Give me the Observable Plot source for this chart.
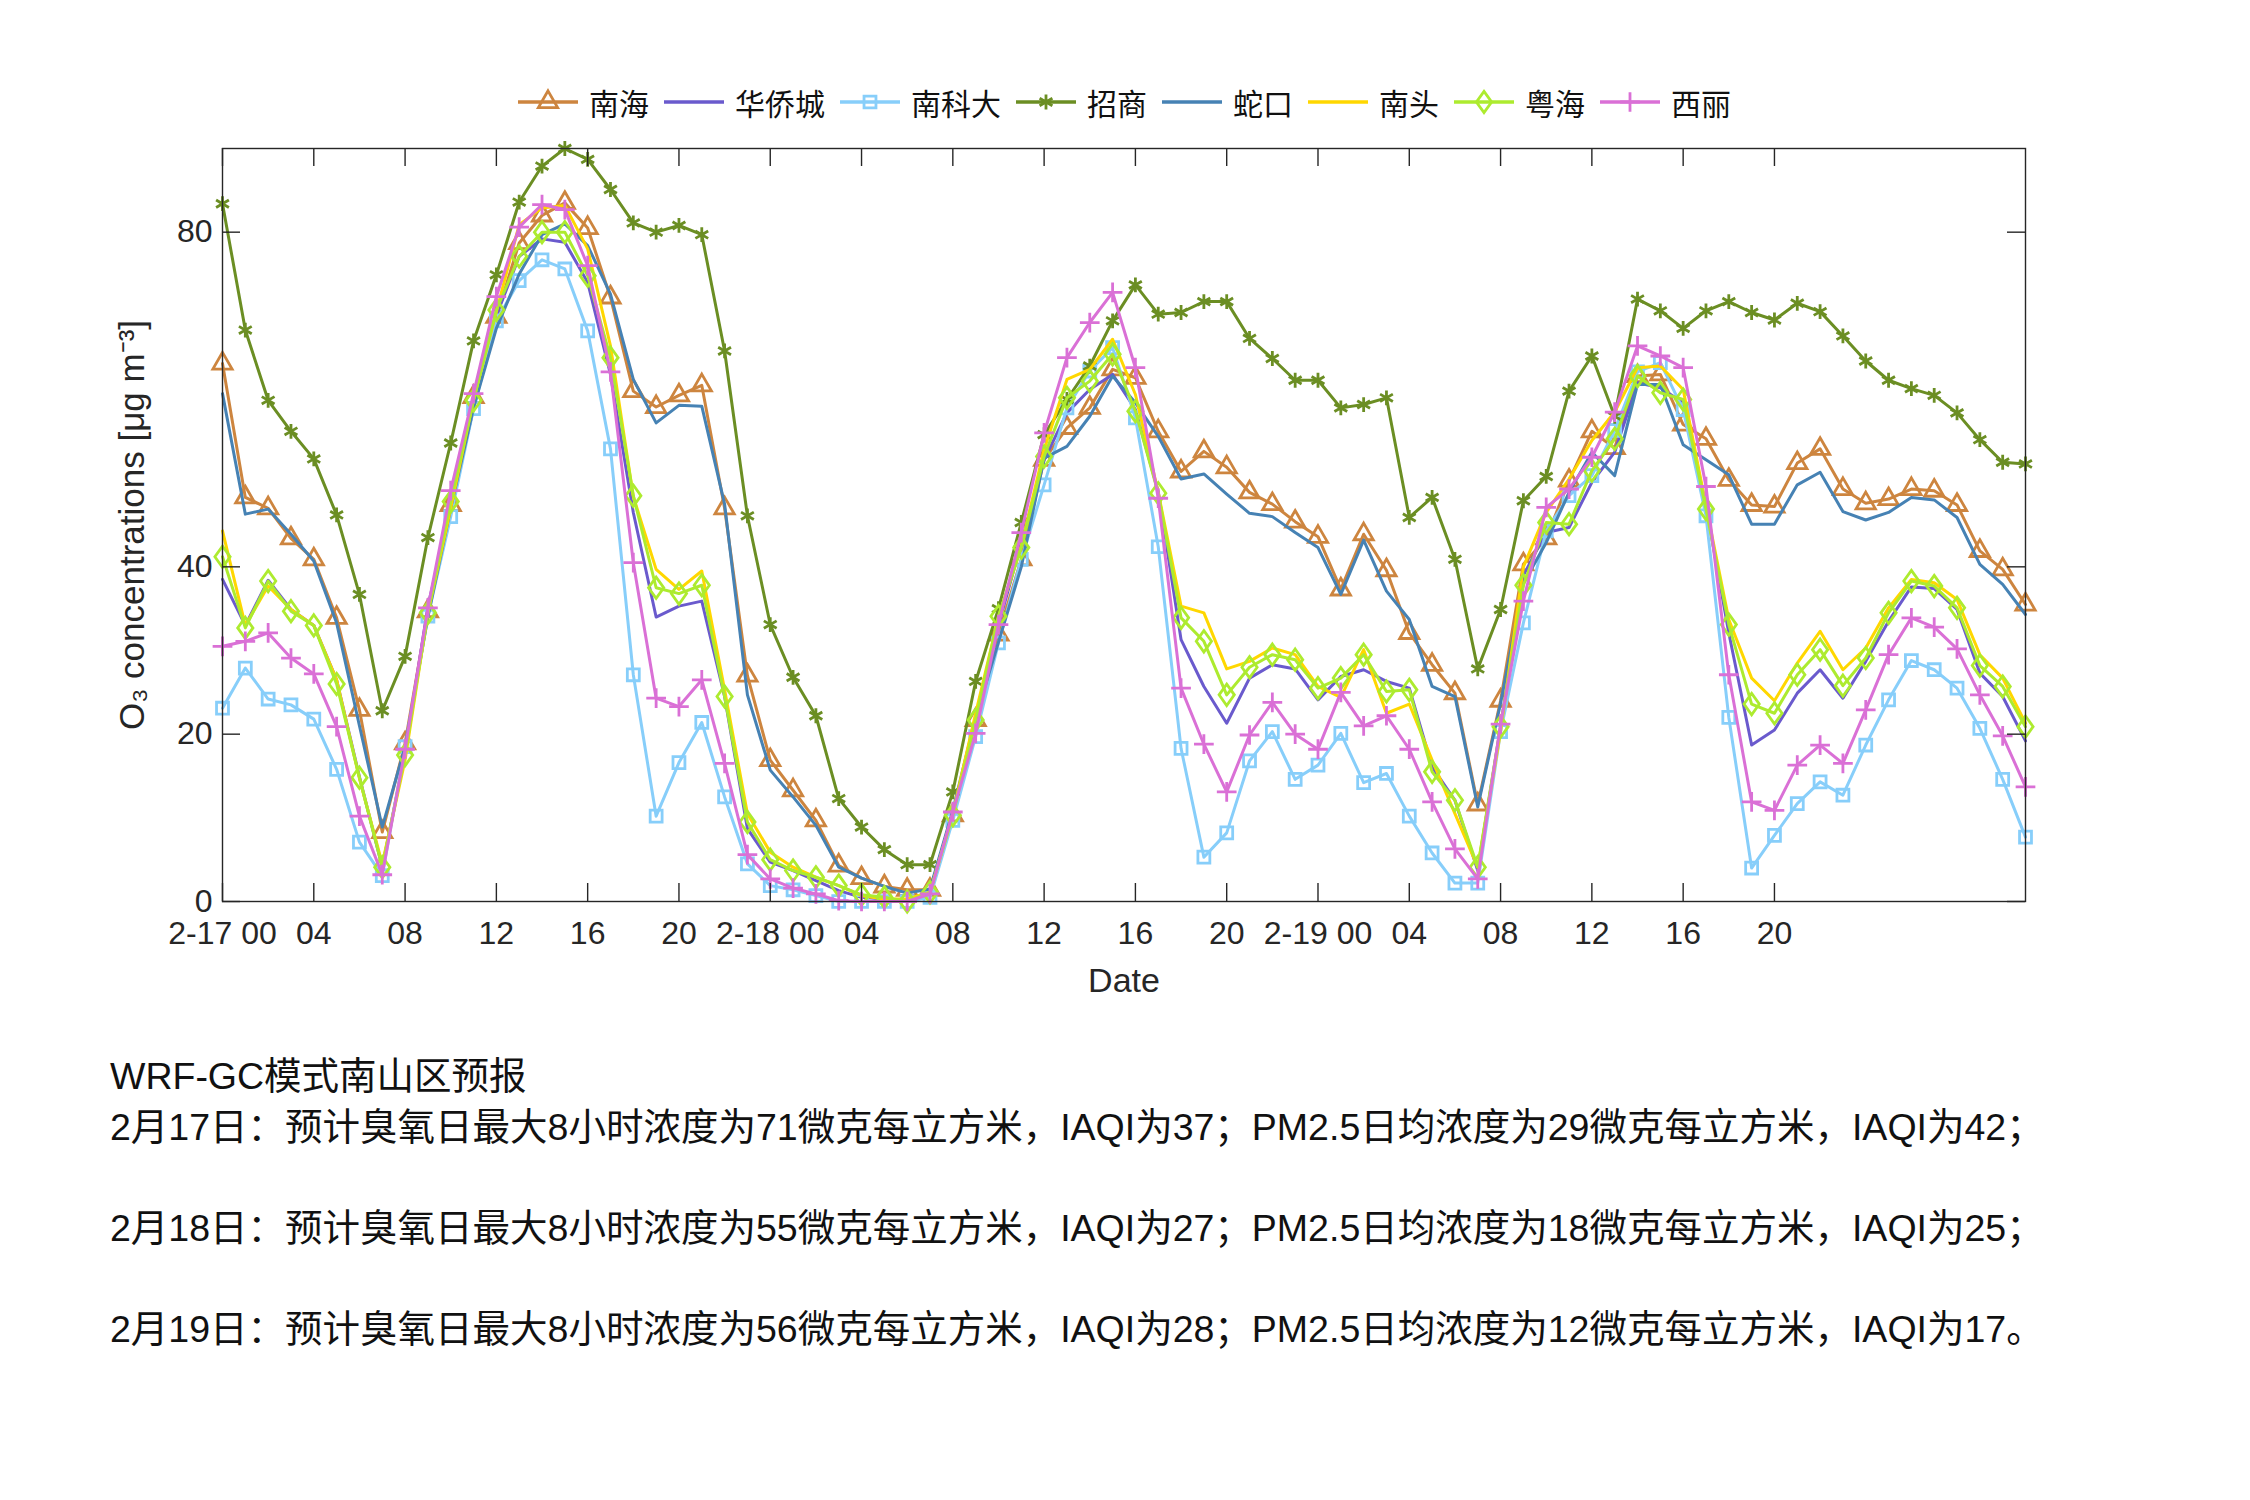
<!DOCTYPE html>
<html><head><meta charset="utf-8">
<script src="https://cdn.jsdelivr.net/npm/d3@7"></script>
<script src="https://cdn.jsdelivr.net/npm/@observablehq/plot@0.6"></script>
<style>
html,body{margin:0;padding:0;background:#fff;}
#page{position:relative;width:2250px;height:1500px;font-family:"Liberation Sans","Noto Sans CJK SC",sans-serif;color:#262626;}
#legend{position:absolute;left:7px;top:80px;width:2250px;height:44px;display:flex;justify-content:center;align-items:center;}
.item{display:flex;align-items:center;margin-right:15px;}
.item span{font-size:30px;margin-left:11px;font-family:"Noto Sans CJK SC",sans-serif;color:#111;}
#chart{position:absolute;left:0;top:130px;}
#caption{position:absolute;left:110px;top:1051px;font-size:37.5px;line-height:50.5px;white-space:pre;font-family:"Liberation Sans","Noto Sans CJK SC",sans-serif;color:#111;}
</style></head>
<body><div id="page"><div id="legend"></div><div id="chart"></div><div id="caption"></div></div>
<script>
// ---- data (hourly O3, 2-17 00 .. 2-20 07) ----
const hours = d3.range(0, 80);
const stations = ["南海","华侨城","南科大","招商","蛇口","南头","粤海","西丽"];
const nanhai = [64.3,48.3,47.0,43.4,40.9,33.9,22.9,8.3,18.9,34.7,
 47.4,60.3,69.9,78.7,82.0,83.5,80.5,72.2,61.0,59.1,
 60.5,61.7,47.0,27.0,16.9,13.3,9.7,4.3,2.8,1.8,
 1.4,1.4,10.3,21.7,31.9,40.9,52.8,56.6,59.0,63.6,
 62.6,56.2,51.4,53.8,51.9,48.9,47.5,45.4,43.6,37.3,
 43.9,39.6,32.1,28.3,24.9,11.6,24.0,40.3,43.4,50.3,
 56.2,54.2,62.8,63.0,57.0,55.3,50.4,47.4,47.2,52.4,
 54.1,49.3,47.6,48.1,49.3,49.1,47.4,41.9,39.7,35.5];
const huaqiaocheng = [38.5,33.0,38.4,34.9,33.0,26.5,14.9,4.1,17.7,35.3,
 47.0,59.0,70.0,77.1,79.2,78.8,74.0,63.0,46.5,34.0,
 35.3,35.9,24.5,8.7,4.7,3.7,2.5,1.3,0.5,0.3,
 0.1,0.7,10.5,21.7,33.0,42.9,52.8,58.4,61.2,63.0,
 58.8,49.0,31.3,25.7,21.3,26.7,28.3,27.8,24.1,26.9,
 27.7,26.3,25.5,16.1,12.1,3.7,20.9,39.0,44.1,44.7,
 50.1,53.7,62.0,61.4,59.6,47.3,32.1,18.7,20.5,24.9,
 27.7,24.3,28.7,33.5,37.6,37.4,34.9,27.3,24.5,19.2];
const nankeda = [23.1,27.9,24.2,23.5,21.8,15.8,7.1,3.1,18.5,34.1,
 46.0,58.9,69.4,74.2,76.7,75.6,68.2,54.1,27.1,10.2,
 16.6,21.4,12.5,4.5,1.9,1.4,0.7,0.0,0.0,0.0,
 0.0,0.5,9.7,19.7,30.9,40.9,49.8,59.0,63.4,66.2,
 57.8,42.4,18.3,5.3,8.2,16.8,20.3,14.6,16.3,20.1,
 14.2,15.3,10.2,5.8,2.2,2.2,20.3,33.3,44.3,48.5,
 50.9,56.3,63.3,64.4,58.8,46.1,22.0,4.0,7.9,11.7,
 14.3,12.7,18.7,24.1,28.8,27.7,25.5,20.7,14.6,7.7];
const zhaoshang = [83.4,68.3,59.9,56.2,52.9,46.2,36.7,22.8,29.3,43.5,
 54.8,67.0,74.9,83.6,87.9,90.0,88.7,85.1,81.1,80.0,
 80.8,79.7,65.8,46.1,33.1,26.8,22.2,12.3,8.9,6.2,
 4.4,4.4,13.1,26.3,35.0,45.3,55.8,60.0,64.0,69.4,
 73.7,70.2,70.4,71.7,71.7,67.3,64.9,62.3,62.3,59.0,
 59.4,60.2,45.9,48.3,40.9,27.8,34.9,47.9,50.8,61.0,
 65.2,58.0,72.0,70.6,68.5,70.6,71.7,70.4,69.5,71.5,
 70.5,67.6,64.6,62.3,61.3,60.5,58.4,55.2,52.5,52.3];
const shekou = [60.7,46.3,46.9,43.9,40.7,33.3,21.0,8.9,18.5,34.0,
 47.0,59.0,68.5,75.0,79.7,81.0,78.4,72.6,62.4,57.2,
 59.3,59.2,47.5,24.7,15.7,12.5,9.1,4.1,2.8,1.8,
 1.0,1.5,10.9,22.0,31.0,40.0,53.0,54.4,58.0,62.8,
 59.6,55.6,50.5,51.1,48.7,46.4,46.0,44.1,42.3,36.7,
 43.2,37.1,33.7,25.7,24.5,11.3,23.7,38.0,42.9,48.9,
 53.7,50.9,61.8,61.8,54.6,52.8,51.0,45.1,45.1,49.8,
 51.3,46.6,45.6,46.5,48.3,48.0,45.9,40.3,37.9,34.3];
const nantou = [44.3,33.0,37.7,34.9,33.0,26.5,14.7,4.5,16.9,34.5,
 47.0,60.0,70.5,80.9,82.9,83.2,78.0,66.4,48.4,39.7,
 37.3,39.5,25.3,10.5,5.9,4.1,2.9,1.9,0.7,0.3,
 0.3,1.1,10.5,22.5,34.0,42.5,54.0,62.4,63.6,67.2,
 60.6,48.9,35.3,34.5,27.8,28.7,30.3,29.5,25.7,24.4,
 30.1,22.5,23.6,16.9,10.5,4.1,20.3,40.0,46.5,50.5,
 55.1,58.5,63.8,64.0,61.2,47.3,33.7,26.7,24.0,28.5,
 32.3,27.7,30.3,35.1,38.5,38.1,36.1,29.5,26.7,21.3];
const yuehai = [41.2,32.7,38.3,34.7,33.0,26.0,14.8,4.1,17.5,34.5,
 47.8,59.9,70.7,77.1,80.0,80.0,74.8,65.0,48.5,37.5,
 36.8,37.8,24.5,9.5,5.0,3.7,2.9,1.9,0.8,0.5,
 0.0,1.1,10.3,21.7,34.1,42.3,53.2,60.2,62.2,65.4,
 58.6,48.8,33.9,31.1,24.7,28.0,29.5,28.9,25.5,26.7,
 29.5,25.1,25.3,15.5,12.1,4.1,20.9,37.8,45.3,45.1,
 51.5,55.3,62.8,60.8,60.0,46.9,33.1,23.6,22.5,27.1,
 30.1,25.8,29.1,34.5,38.3,37.7,35.1,28.2,25.7,20.9];
const xili = [30.5,31.1,32.1,29.1,27.2,20.9,10.2,3.2,18.2,35.1,
 49.1,60.7,72.3,80.6,83.3,82.7,76.0,63.3,40.5,24.3,
 23.3,26.5,16.5,5.6,2.7,1.6,0.9,0.1,0.0,0.0,
 0.0,0.9,10.7,20.1,33.1,44.1,56.0,65.0,69.2,72.8,
 63.8,48.2,25.5,18.8,13.1,19.9,23.8,20.0,18.2,25.0,
 21.0,22.2,18.2,11.9,6.3,2.7,21.2,35.9,47.1,49.3,
 53.1,58.5,66.4,65.2,63.8,49.6,27.1,11.9,10.9,16.3,
 18.7,16.5,22.9,29.5,33.9,32.8,30.2,24.7,19.8,13.7];
const xTicks = [0,4,8,12,16,20,24,28,32,36,40,44,48,52,56,60,64,68];
const xTickLabels = ["2-17 00","04","08","12","16","20","2-18 00","04","08","12","16","20","2-19 00","04","08","12","16","20"];
const yTicks = [0,20,40,80];
const xLabel = "Date";
const yLabel = "O₃ concentrations [μg m⁻³]";
const captionLines = [
 "WRF-GC模式南山区预报",
 "2月17日：预计臭氧日最大8小时浓度为71微克每立方米，IAQI为37；PM2.5日均浓度为29微克每立方米，IAQI为42；",
 "",
 "2月18日：预计臭氧日最大8小时浓度为55微克每立方米，IAQI为27；PM2.5日均浓度为18微克每立方米，IAQI为25；",
 "",
 "2月19日：预计臭氧日最大8小时浓度为56微克每立方米，IAQI为28；PM2.5日均浓度为12微克每立方米，IAQI为17。"
];

// ---- styling ----
const seriesValues = [nanhai, huaqiaocheng, nankeda, zhaoshang, shekou, nantou, yuehai, xili];
const colors = ["#CD853F","#6A5ACD","#87CEFA","#6B8E23","#4682B4","#FFD700","#ADEB2F","#DA70D6"];
const tallDiamond = {draw(ctx, size){const s=Math.sqrt(size);const w=s*0.5,h=s*0.7;ctx.moveTo(0,-h);ctx.lineTo(w,0);ctx.lineTo(0,h);ctx.lineTo(-w,0);ctx.closePath();}};
const symbolTypes = [d3.symbolTriangle2, null, d3.symbolSquare2, d3.symbolAsterisk, null, null, tallDiamond, d3.symbolPlus];
const symbolR = [9.2, 0, 7.6, 7.0, 0, 0, 8.6, 6.4];

const rows = stations.flatMap((s, i) => hours.map((h, j) => ({station: s, hour: h, value: seriesValues[i][j]})));

const W = 2250, mL = 222, mR = 225, mT = 18, plotH = 753, mB = 120;
const H = mT + plotH + mB;
const plotW = W - mL - mR;
const tickLen = 18;
const labelMap = new Map(xTicks.map((t, i) => [t, xTickLabels[i]]));

const marks = [];
stations.forEach((s, i) => {
  const d = rows.filter(r => r.station === s);
  marks.push(Plot.line(d, {x: "hour", y: "value", stroke: colors[i], strokeWidth: 3}));
  if (symbolTypes[i]) marks.push(Plot.dot(d, {x: "hour", y: "value", stroke: colors[i], fill: "none", symbol: symbolTypes[i], r: symbolR[i], strokeWidth: 2.8}));
});

const chart = Plot.plot({
  width: W, height: H,
  marginLeft: mL, marginRight: mR, marginTop: mT, marginBottom: mB,
  style: {fontFamily: '"Liberation Sans","Noto Sans CJK SC",sans-serif', fontSize: "32px", color: "#262626", background: "white"},
  x: {domain: [0, 79]},
  y: {domain: [0, 90]},
  marks: [
    ...marks,
    Plot.frame({stroke: "#262626", strokeWidth: 1.4}),
    Plot.tickX(xTicks, {x: d => d, stroke: "#262626", strokeWidth: 1.4, insetTop: plotH - tickLen}),
    Plot.tickX(xTicks, {x: d => d, stroke: "#262626", strokeWidth: 1.4, insetBottom: plotH - tickLen}),
    Plot.tickY(yTicks, {y: d => d, stroke: "#262626", strokeWidth: 1.4, insetRight: plotW - tickLen}),
    Plot.tickY(yTicks, {y: d => d, stroke: "#262626", strokeWidth: 1.4, insetLeft: plotW - tickLen}),
    Plot.axisX({ticks: xTicks, tickSize: 0, tickPadding: 20, fontSize: 32, tickFormat: d => labelMap.get(d), label: null}),
    Plot.axisY({ticks: yTicks, tickSize: 0, tickPadding: 10, fontSize: 32, label: null}),
    Plot.text([xLabel], {text: d => d, frameAnchor: "bottom", dy: 90, fontSize: 34, fill: "#262626"}),
    Plot.text([yLabel], {text: d => d, frameAnchor: "left", dx: -90, rotate: -90, textAnchor: "middle", lineAnchor: "middle", fontSize: 35, fill: "#262626"})
  ]
});
document.getElementById("chart").appendChild(chart);

// ---- legend ----
const legend = d3.select("#legend");
stations.forEach((s, i) => {
  const it = legend.append("div").attr("class", "item");
  const sv = it.append("svg").attr("width", 60).attr("height", 34);
  sv.append("line").attr("x1", 0).attr("x2", 60).attr("y1", 17).attr("y2", 17).attr("stroke", colors[i]).attr("stroke-width", 3.5);
  if (symbolTypes[i]) {
    sv.append("path").attr("transform", "translate(30,17)")
      .attr("d", d3.symbol(symbolTypes[i], Math.PI * symbolR[i] * symbolR[i])())
      .attr("fill", "none").attr("stroke", colors[i]).attr("stroke-width", 2.8);
  }
  it.append("span").text(s);
});

document.getElementById("caption").textContent = captionLines.join("\n");
</script>
</body></html>
